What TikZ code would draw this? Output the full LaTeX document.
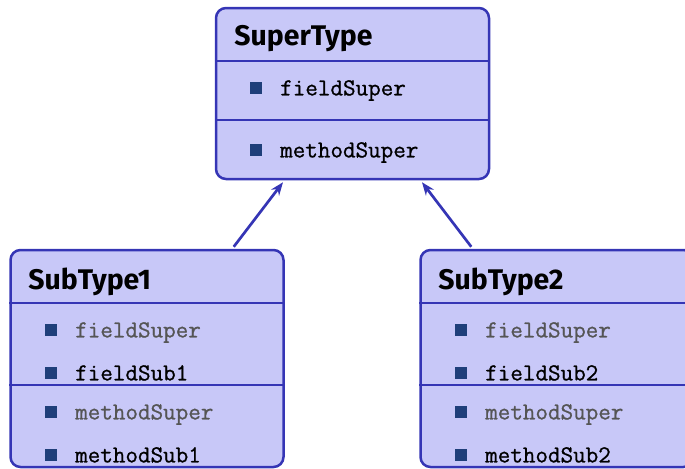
\documentclass[tikz,border=0pt]{standalone}
\usepackage{fontspec}
\usepackage{tikz}
\usetikzlibrary{positioning,arrows.meta}
\newfontfamily\titlefont{Fira Sans}
\newfontfamily\codefont{Latin Modern Mono}[FakeBold=0.9]
\definecolor{Edge}{HTML}{3535B5}
\definecolor{Lavender}{HTML}{C8C8F8}
\definecolor{Bullet}{HTML}{1F3F7A}
\definecolor{Inherit}{HTML}{555555}

\begin{document}
\begin{tikzpicture}[x=0.5pt,y=-0.5pt,
    cls/.style={draw=Edge,line width=1.25pt,rounded corners=5pt,fill=Lavender,
                minimum width=136.5pt,inner sep=0pt},
    title/.style={anchor=base west,inner sep=0pt,font=\titlefont\bfseries\fontsize{14.2}{17}\selectfont},
    sq/.style={fill=Bullet,minimum size=6.4pt,inner sep=0pt},
    item/.style={anchor=base west,inner sep=0pt,font=\codefont\bfseries\fontsize{12.2}{14}\selectfont},
    old/.style={item,text=Inherit},
    sep/.style={draw=Edge,line width=1.25pt},
    arr/.style={-{Stealth[length=6.5pt,width=5pt]},line width=1.35pt,Edge}
  ]
    \path[use as bounding box,clip] (0,0) rectangle (685,468);

    % super class
    \node[cls,minimum height=85.5pt] (super) at (352.5,93.5) {};
    \node[title] (st) at (234,45) {SuperType};
    \draw[sep] (super.west |- 0,61) -- (super.east |- 0,61);
    \draw[sep] (super.west |- 0,120) -- (super.east |- 0,120);
    \node[sq] (s1) at (256,88) {};
    \node[item] (fs) at ([xshift=8.5pt,yshift=-0.3pt]s1.south east) {fieldSuper};
    \node[sq] (s2) at (256,150) {};
    \node[item] (ms) at ([xshift=8.5pt,yshift=-0.3pt]s2.south east) {methodSuper};

    % first sub class
    \node[cls,minimum height=108.5pt] (sub1) at (147,358.5) {};
    \node[title] (t1) at (28,289) {SubType1};
    \draw[sep] (sub1.west |- 0,303) -- (sub1.east |- 0,303);
    \draw[sep] (sub1.west |- 0,385) -- (sub1.east |- 0,385);
    \node[sq] (a1) at (51,330) {};
    \node[old] (fa1) at ([xshift=8.5pt,yshift=-0.3pt]a1.south east) {fieldSuper};
    \node[sq] (a2) at (51,373) {};
    \node[item] (fb1) at ([xshift=8.5pt,yshift=-0.3pt]a2.south east) {fieldSub1};
    \node[sq] (a3) at (51,412) {};
    \node[old] (ma1) at ([xshift=8.5pt,yshift=-0.3pt]a3.south east) {methodSuper};
    \node[sq] (a4) at (51,455) {};
    \node[item] (mb1) at ([xshift=8.5pt,yshift=-0.3pt]a4.south east) {methodSub1};

    % second sub class
    \node[cls,minimum height=108.5pt] (sub2) at (557,358.5) {};
    \node[title] (t2) at (438,289) {SubType2};
    \draw[sep] (sub2.west |- 0,303) -- (sub2.east |- 0,303);
    \draw[sep] (sub2.west |- 0,385) -- (sub2.east |- 0,385);
    \node[sq] (b1) at (461,330) {};
    \node[old] (fa2) at ([xshift=8.5pt,yshift=-0.3pt]b1.south east) {fieldSuper};
    \node[sq] (b2) at (461,373) {};
    \node[item] (fb2) at ([xshift=8.5pt,yshift=-0.3pt]b2.south east) {fieldSub2};
    \node[sq] (b3) at (461,412) {};
    \node[old] (ma2) at ([xshift=8.5pt,yshift=-0.3pt]b3.south east) {methodSuper};
    \node[sq] (b4) at (461,455) {};
    \node[item] (mb2) at ([xshift=8.5pt,yshift=-0.3pt]b4.south east) {methodSub2};

    \draw[arr] ([xshift=-25.5pt,yshift=1pt]sub1.north east) -- ([xshift=-34.75pt,yshift=-1pt]super.south);
    \draw[arr] ([xshift=26pt,yshift=1pt]sub2.north west) -- ([xshift=34.75pt,yshift=-1pt]super.south);
  \end{tikzpicture}
\end{document}
